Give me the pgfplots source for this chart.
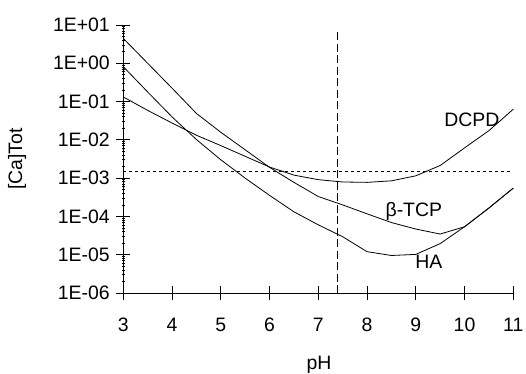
\documentclass[border=0pt]{standalone}
\usepackage{fontspec}
\setmainfont{Liberation Sans}
\usepackage{pgfplots}
\pgfplotsset{compat=1.18}
\begin{document}
\begin{tikzpicture}
\newcommand{\lf}{\fontsize{19.5}{23}\selectfont}
\begin{axis}[
  scale only axis,
  width=390bp, height=268bp,
  xmin=3, xmax=11,
  ymode=log, ymin=1e-6, ymax=10,
  axis x line=bottom, axis y line=left,
  axis line style={-, black, line width=0.8bp},
  tick align=center,
  major tick length=14bp,
  every tick/.style={black, line width=0.8bp},
  xtick={3,4,5,6,7,8,9,10,11},
  xticklabels={3,4,5,6,7,8,9,10,11},
  ytick={1e-6,1e-5,1e-4,1e-3,1e-2,1e-1,1,10},
  yticklabels={1E-06,1E-05,1E-04,1E-03,1E-02,1E-01,1E+00,1E+01},
  minor ytick={},
  log ticks with fixed point=false,
  ticklabel style={font=\lf},
  xticklabel style={anchor=base, yshift=-31bp},
  yticklabel style={anchor=east, xshift=-3bp},
  xlabel={pH}, ylabel={[Ca]Tot},
  every axis x label/.style={at={(axis description cs:0.502,-0.284)}, anchor=base, font=\lf},
  every axis y label/.style={at={(axis description cs:-0.272,0.5)}, rotate=90, anchor=center, font=\lf},
  clip=false,
]
% beta-TCP
\addplot[black, line width=0.8bp] coordinates {
(3,4.47) (3.5,1.0) (4,0.224) (4.5,0.049) (5,0.0158) (5.5,5.50e-3) (6,1.91e-3)
(6.5,7.76e-4) (7,3.31e-4) (7.5,2.00e-4) (8,1.17e-4) (8.5,6.92e-5) (9,4.68e-5)
(9.5,3.47e-5) (10,5.37e-5) (10.5,1.66e-4) (11,5.50e-4)};
% HA
\addplot[black, line width=0.8bp] coordinates {
(3,0.813) (3.5,0.178) (4,0.0398) (4.5,0.0102) (5,3.02e-3) (5.5,1.0e-3) (6,3.55e-4)
(6.5,1.32e-4) (7,6.03e-5) (7.5,2.95e-5) (8,1.20e-5) (8.5,9.55e-6) (9,1.02e-5)
(9.5,1.95e-5) (10,5.37e-5) (10.5,1.66e-4) (11,5.50e-4)};
% DCPD
\addplot[black, line width=0.8bp] coordinates {
(3,0.132) (3.5,0.0589) (4,0.0275) (4.5,0.0132) (5,7.08e-3) (5.5,3.72e-3) (6,1.95e-3)
(6.5,1.20e-3) (7,9.12e-4) (7.5,7.94e-4) (8,7.76e-4) (8.5,8.51e-4) (9,1.15e-3)
(9.5,2.14e-3) (10,6.17e-3) (10.5,0.0174) (11,0.0631)};
% reference lines
\addplot[black, line width=0.8bp, dash pattern=on 8bp off 3.5bp] coordinates {(7.4,1e-6) (7.4,8)};
\addplot[black, line width=0.8bp, dash pattern=on 3bp off 3bp] coordinates {(3,1.48e-3) (10.95,1.48e-3)};
\node[font=\lf] at (axis cs:10.15,0.033) {DCPD};
\node[font=\lf] at (axis cs:8.96,1.38e-4) {β-TCP};
\node[font=\lf] at (axis cs:9.27,6.6e-6) {HA};
\end{axis}
\pgfresetboundingbox
\path[use as bounding box] (-123.3bp,-81bp) rectangle (402.7bp,293bp);
\end{tikzpicture}
\end{document}
